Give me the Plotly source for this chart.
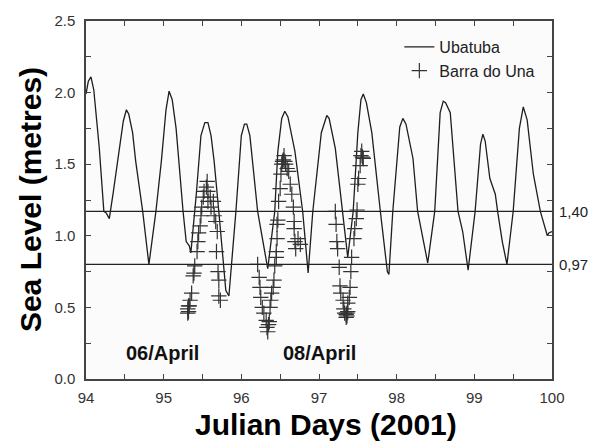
import plotly.graph_objects as go

# Ubatuba tide-gauge record (Julian day, metres)
uba_day = [94.00, 94.03, 94.064, 94.10, 94.17, 94.23, 94.26, 94.30, 94.35, 94.41, 94.48, 94.52, 94.55, 94.60,
           94.64, 94.73, 94.81, 94.90, 94.97, 95.03, 95.07, 95.11, 95.16, 95.25, 95.29, 95.33, 95.35,
           95.42, 95.48, 95.53, 95.57, 95.61, 95.65, 95.71, 95.80, 95.84, 95.93, 96.00, 96.04, 96.07, 96.11,
           96.21, 96.34, 96.43, 96.47, 96.52, 96.56, 96.60, 96.69, 96.79, 96.86, 96.92, 97.03, 97.10, 97.13,
           97.21, 97.30, 97.37, 97.44, 97.50, 97.54, 97.57, 97.61, 97.68, 97.79, 97.88, 97.90, 97.95,
           98.04, 98.08, 98.12, 98.21, 98.27, 98.39, 98.40, 98.49, 98.56, 98.60, 98.63, 98.69, 98.79,
           98.85, 98.92, 99.01, 99.08, 99.11, 99.14, 99.20, 99.27, 99.30, 99.36, 99.42, 99.50, 99.58,
           99.63, 99.68, 99.76, 99.85, 99.94, 99.96, 100.00]
uba_lvl = [1.99, 2.08, 2.11, 2.02, 1.62, 1.17, 1.16, 1.12, 1.30, 1.52, 1.80, 1.88, 1.85, 1.72,
           1.52, 1.17, 0.80, 1.17, 1.52, 1.88, 2.01, 1.95, 1.75, 1.17, 0.96, 0.93, 0.88,
           1.29, 1.70, 1.79, 1.79, 1.70, 1.52, 1.17, 0.62, 0.58, 1.17, 1.70, 1.78, 1.78, 1.70,
           1.17, 0.77, 1.17, 1.59, 1.82, 1.87, 1.83, 1.59, 1.17, 0.74, 1.17, 1.72, 1.84, 1.82,
           1.61, 1.17, 0.85, 1.17, 1.72, 1.95, 1.99, 1.93, 1.72, 1.17, 0.75, 0.73, 1.17,
           1.76, 1.82, 1.78, 1.54, 1.17, 0.82, 0.81, 1.17, 1.86, 1.94, 1.93, 1.86, 1.17,
           1.03, 0.76, 1.17, 1.64, 1.71, 1.66, 1.40, 1.29, 1.17, 0.96, 0.80, 1.17, 1.75,
           1.90, 1.81, 1.43, 1.17, 1.00, 1.02, 1.03]

# Barra do Una observations (Julian day, metres)
una_day = [95.31, 95.31, 95.32, 95.32, 95.33, 95.34, 95.36, 95.38, 95.39, 95.40, 95.43, 95.44, 95.45, 95.47,
           95.48, 95.49, 95.51, 95.52, 95.55, 95.56, 95.57, 95.57, 95.60, 95.61, 95.64, 95.65, 95.67,
           95.68, 95.69, 95.70, 95.71, 95.71, 95.73,
           96.21, 96.23, 96.24, 96.25, 96.27, 96.29, 96.32, 96.33, 96.34, 96.35, 96.36, 96.37, 96.38,
           96.39, 96.41, 96.42, 96.43, 96.45, 96.45, 96.46, 96.46, 96.47, 96.48, 96.50, 96.51, 96.52,
           96.53, 96.54, 96.55, 96.56, 96.57, 96.59, 96.61, 96.63, 96.65, 96.67, 96.68, 96.68, 96.69,
           96.70, 96.73, 96.76,
           97.21, 97.22, 97.23, 97.24, 97.26, 97.27, 97.28, 97.31, 97.32, 97.33, 97.35, 97.35, 97.36,
           97.36, 97.37, 97.37, 97.39, 97.40, 97.41, 97.42, 97.45, 97.46, 97.48, 97.49, 97.50, 97.51,
           97.53, 97.54, 97.55, 97.56, 97.57]
una_lvl = [0.46, 0.49, 0.47, 0.51, 0.51, 0.55, 0.60, 0.72, 0.74, 0.79, 0.89, 0.96, 1.02, 1.07,
           1.14, 1.20, 1.27, 1.31, 1.34, 1.38, 1.31, 1.24, 1.27, 1.20, 1.24, 1.14, 1.10,
           0.89, 1.03, 0.75, 0.69, 0.58, 0.55,
           0.80, 0.71, 0.64, 0.57, 0.50, 0.46, 0.41, 0.36, 0.33, 0.38, 0.40, 0.50, 0.55,
           0.60, 0.64, 0.69, 0.79, 0.85, 0.89, 0.98, 1.08, 1.11, 1.24, 1.33, 1.43, 1.50,
           1.52, 1.53, 1.56, 1.52, 1.50, 1.47, 1.45, 1.36, 1.29, 1.20, 1.10, 1.05, 0.96,
           0.91, 0.98, 0.94,
           1.17, 1.08, 0.96, 0.91, 0.78, 0.65, 0.60, 0.55, 0.49, 0.46, 0.43, 0.45, 0.46,
           0.44, 0.47, 0.53, 0.57, 0.64, 0.75, 0.85, 0.98, 1.05, 1.12, 1.18, 1.36, 1.40,
           1.49, 1.56, 1.59, 1.55, 1.54]

# Reference levels and their labels
ref_levels = [1.17, 0.80]
ref_labels = ["1,40", "0,97"]

# Date labels
date_text = ["06/April", "08/April"]
date_day = [94.98, 97.01]
date_lvl = [0.18, 0.18]

x_ticks = [94, 95, 96, 97, 98, 99, 100]
y_ticks = [0.0, 0.5, 1.0, 1.5, 2.0, 2.5]

FONT = "Liberation Sans, Arial, sans-serif"

fig = go.Figure()
fig.add_trace(go.Scatter(x=uba_day, y=uba_lvl, mode="lines", name="Ubatuba",
                         line=dict(color="#1e1e1e", width=1.3)))
fig.add_trace(go.Scatter(x=una_day, y=una_lvl, mode="markers", name="Barra do Una",
                         marker=dict(symbol="cross-thin", size=11,
                                     line=dict(color="#333333", width=1.2))))

for lv, lab in zip(ref_levels, ref_labels):
    fig.add_shape(type="line", xref="paper", x0=0, x1=1, yref="y", y0=lv, y1=lv,
                  line=dict(color="#222222", width=1.2))
    fig.add_annotation(x=1, xref="paper", y=lv, yref="y", text=lab, showarrow=False,
                       xanchor="left", xshift=5, yanchor="middle",
                       font=dict(family=FONT, size=15, color="#222222"))

for t, d, l in zip(date_text, date_day, date_lvl):
    fig.add_annotation(x=d, y=l, text="<b>%s</b>" % t, showarrow=False,
                       font=dict(family=FONT, size=20, color="#111111"))

fig.add_annotation(x=-0.12, xref="paper", y=0.5, yref="paper", text="<b>Sea Level (metres)</b>",
                   textangle=-90, showarrow=False, xanchor="center", yanchor="middle",
                   font=dict(family=FONT, size=30, color="#000000"))
fig.add_annotation(x=0.515, xref="paper", y=-0.127, yref="paper", text="<b>Julian Days (2001)</b>",
                   showarrow=False, xanchor="center", yanchor="middle",
                   font=dict(family=FONT, size=30, color="#000000"))

axis_common = dict(showgrid=False, zeroline=False, showline=True, linecolor="#444444", linewidth=1.5,
                   mirror="ticks", ticks="inside", ticklen=5, tickcolor="#444444", tickwidth=1.2,
                   tickfont=dict(family=FONT, size=15, color="#333333"))

fig.update_xaxes(range=[94, 100], tickvals=x_ticks, ticktext=[str(v) for v in x_ticks],
                 minor=dict(dtick=0.5, ticks="inside", ticklen=5, tickcolor="#444444", tickwidth=1.2),
                 ticklabelstandoff=4, **axis_common)
fig.update_yaxes(range=[0, 2.5], tickvals=y_ticks, ticktext=["%.1f" % v for v in y_ticks],
                 minor=dict(dtick=0.25, ticks="inside", ticklen=5, tickcolor="#444444", tickwidth=1.2),
                 ticklabelstandoff=6, **axis_common)

fig.update_layout(
    width=590, height=445,
    margin=dict(l=86, r=38, t=18, b=66),
    paper_bgcolor="#ffffff", plot_bgcolor="#fbfbfb",
    showlegend=True,
    legend=dict(x=0.975, xanchor="right", y=0.975, yanchor="top", bgcolor="rgba(0,0,0,0)",
                font=dict(family=FONT, size=16, color="#222222"), tracegroupgap=0,
                itemwidth=30),
    font=dict(family=FONT),
)

fig.write_html("out.html", config={"displayModeBar": False},
               post_script="document.body.style.margin='0';")
